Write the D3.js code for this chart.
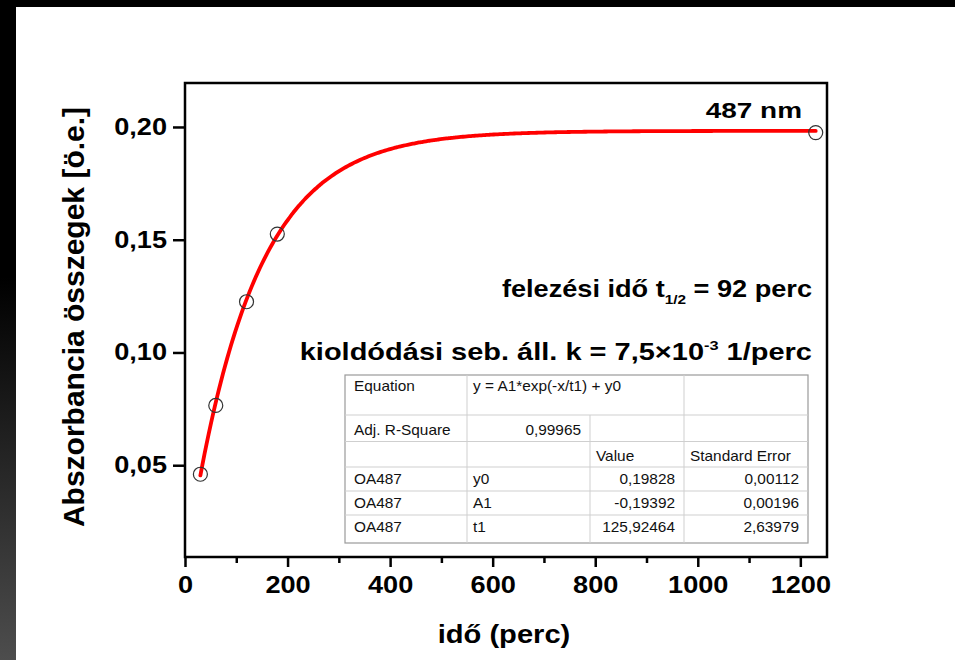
<!DOCTYPE html>
<html>
<head>
<meta charset="utf-8">
<script src="https://cdn.jsdelivr.net/npm/d3@7"></script>
<style>
  html, body { margin: 0; padding: 0; background: #000; }
  svg { display: block; }
  text { font-family: "Liberation Sans", Arial, sans-serif; }
</style>
</head>
<body>
<div id="chart"></div>
<script>
// measured points: time (perc) vs absorbance sums
var timeMin = [30, 60, 120, 180, 1230];
var absorbance = [0.046, 0.0765, 0.1225, 0.1525, 0.1975];

// fit parameters (from the result table)
var fitY0 = 0.19828;
var fitA1 = -0.19392;
var fitT1 = 125.92464;

var xTicks = [0, 200, 400, 600, 800, 1000, 1200];
var xMinorTicks = [100, 300, 500, 700, 900, 1100];
var yTicks = [0.05, 0.10, 0.15, 0.20];

// fit result table, column by column
var tableCol1 = ["Equation", "Adj. R-Square", "", "OA487", "OA487", "OA487"];
var tableCol2 = ["y = A1*exp(-x/t1) + y0", "0,99965", "", "y0", "A1", "t1"];
var tableCol3 = ["", "", "Value", "0,19828", "-0,19392", "125,92464"];
var tableCol4 = ["", "", "Standard Error", "0,00112", "0,00196", "2,63979"];

var svgWidth = 955;
var svgHeight = 660;

var plot = {left: 185, right: 827, top: 83, bottom: 557};

var svg = d3.select("#chart")
    .append("svg")
    .attr("width", svgWidth)
    .attr("height", svgHeight);

// background: black with a grey fade on the left strip
var defs = svg.append("defs");
var grad = defs.append("linearGradient")
    .attr("id", "leftFade")
    .attr("x1", 0).attr("y1", 0).attr("x2", 0).attr("y2", 1);
grad.append("stop").attr("offset", "0.42").attr("stop-color", "#000");
grad.append("stop").attr("offset", "1").attr("stop-color", "#4d4d4d");

svg.append("rect").attr("width", svgWidth).attr("height", svgHeight).attr("fill", "#000");
svg.append("rect").attr("x", 0).attr("y", 0).attr("width", 16).attr("height", svgHeight)
    .attr("fill", "url(#leftFade)");
svg.append("rect").attr("x", 16).attr("y", 7).attr("width", svgWidth - 16).attr("height", svgHeight - 7)
    .attr("fill", "#fff");

var xScale = d3.scaleLinear().domain([0, 1252]).range([plot.left, plot.right]);
var yScale = d3.scaleLinear().domain([0.0093, 0.2195]).range([plot.bottom, plot.top]);

var commaLocale = d3.formatLocale({decimal: ",", thousands: "", grouping: [3], currency: ["", ""]});
var yFormat = commaLocale.format(".2f");

var tickFont = 23;
var stretch = 1.18;

// x axis: major + minor ticks
var xAxis = svg.append("g")
    .attr("transform", `translate(0, ${plot.bottom})`)
    .call(d3.axisBottom(xScale).tickValues(xTicks).tickSize(10).tickPadding(10).tickFormat(d3.format("d")));

svg.append("g")
    .attr("transform", `translate(0, ${plot.bottom})`)
    .call(d3.axisBottom(xScale).tickValues(xMinorTicks).tickSize(6).tickFormat(""))
    .call(g => g.select(".domain").remove());

var yAxis = svg.append("g")
    .attr("transform", `translate(${plot.left}, 0)`)
    .call(d3.axisLeft(yScale).tickValues(yTicks).tickSize(12).tickPadding(6).tickFormat(yFormat));

svg.selectAll(".domain").remove();
svg.selectAll(".tick line").attr("stroke", "#000").attr("stroke-width", 2.5);

xAxis.selectAll("text")
    .attr("font-size", tickFont)
    .attr("font-weight", "bold")
    .attr("font-family", "Liberation Sans, Arial, sans-serif")
    .attr("fill", "#000")
    .attr("transform", `scale(${stretch},1)`);

yAxis.selectAll("text")
    .attr("font-size", tickFont)
    .attr("font-weight", "bold")
    .attr("font-family", "Liberation Sans, Arial, sans-serif")
    .attr("fill", "#000")
    .attr("x", -18 / stretch)
    .attr("transform", `scale(${stretch},1)`);

// plot frame
svg.append("rect")
    .attr("x", plot.left)
    .attr("y", plot.top)
    .attr("width", plot.right - plot.left)
    .attr("height", plot.bottom - plot.top)
    .attr("fill", "none")
    .attr("stroke", "#000")
    .attr("stroke-width", 2.5);

// fitted curve y = A1*exp(-x/t1) + y0 between first and last measurement
var fitX = d3.range(timeMin[0], timeMin[timeMin.length - 1] + 1, 4);
var fitLine = d3.line()
    .x(d => xScale(d))
    .y(d => yScale(fitA1 * Math.exp(-d / fitT1) + fitY0))
    .curve(d3.curveMonotoneX);

svg.append("path")
    .datum(fitX)
    .attr("d", fitLine)
    .attr("fill", "none")
    .attr("stroke", "#ff0000")
    .attr("stroke-width", 3.8)
    .attr("stroke-linecap", "round");

// measured points
svg.selectAll("circle.pt")
    .data(timeMin)
    .enter()
    .append("circle")
    .attr("class", "pt")
    .attr("cx", d => xScale(d))
    .attr("cy", (d, i) => yScale(absorbance[i]))
    .attr("r", 7)
    .attr("fill", "none")
    .attr("stroke", "#333")
    .attr("stroke-width", 1.2);

// annotations
function stretchedText(x, y, size, sx, anchor) {
    return svg.append("text")
        .attr("transform", `translate(${x}, ${y}) scale(${sx},1)`)
        .attr("text-anchor", anchor)
        .attr("font-size", size)
        .attr("font-weight", "bold")
        .attr("fill", "#000");
}

stretchedText(802, 118, 22, 1.27, "end").text("487 nm");

var half = stretchedText(812, 297, 23, 1.18, "end");
half.append("tspan").text("felezési idő t");
half.append("tspan").attr("font-size", 13).attr("dy", 7).text("1/2");
half.append("tspan").attr("dy", -7).text(" = 92 perc");

var rate = stretchedText(812, 360, 23, 1.26, "end");
rate.append("tspan").text("kioldódási seb. áll. k = 7,5×10");
rate.append("tspan").attr("font-size", 13).attr("dy", -10).text("-3");
rate.append("tspan").attr("dy", 10).text(" 1/perc");

// axis titles
stretchedText(504, 643, 26, 1.12, "middle").text("idő (perc)");

svg.append("text")
    .attr("transform", "translate(84, 317) rotate(-90)")
    .attr("text-anchor", "middle")
    .attr("font-size", 30)
    .attr("font-weight", "bold")
    .attr("fill", "#000")
    .text("Abszorbancia összegek [ö.e.]");

// result table
var colEdges = [345, 467, 590, 684, 808];
var rowEdges = [375, 415, 441.5, 467, 491, 515, 543];
var rowBase = [391, 435, 461, 484, 507.5, 532];
var tableFont = 14;
var tableStretch = 1.1;

var table = svg.append("g");
table.append("rect")
    .attr("x", colEdges[0])
    .attr("y", rowEdges[0])
    .attr("width", colEdges[4] - colEdges[0])
    .attr("height", rowEdges[6] - rowEdges[0])
    .attr("fill", "#fff")
    .attr("stroke", "#9a9a9a")
    .attr("stroke-width", 1.2);

// horizontal inner lines
rowEdges.slice(1, 6).forEach(function(y) {
    table.append("line")
        .attr("x1", colEdges[0]).attr("x2", colEdges[4])
        .attr("y1", y).attr("y2", y)
        .attr("stroke", "#cfcfcf").attr("stroke-width", 1);
});
// vertical inner lines (equation cell spans cols 2-3)
table.append("line").attr("x1", colEdges[1]).attr("x2", colEdges[1])
    .attr("y1", rowEdges[0]).attr("y2", rowEdges[6]).attr("stroke", "#cfcfcf");
table.append("line").attr("x1", colEdges[2]).attr("x2", colEdges[2])
    .attr("y1", rowEdges[1]).attr("y2", rowEdges[6]).attr("stroke", "#cfcfcf");
table.append("line").attr("x1", colEdges[3]).attr("x2", colEdges[3])
    .attr("y1", rowEdges[0]).attr("y2", rowEdges[6]).attr("stroke", "#cfcfcf");

function cellText(txt, col, row, align) {
    if (!txt) return;
    var pad = col === 0 ? 9 : 6;
    var x = align === "end" ? colEdges[col + 1] - 9 : colEdges[col] + pad;
    table.append("text")
        .attr("transform", `translate(${x}, ${rowBase[row]}) scale(${tableStretch},1)`)
        .attr("text-anchor", align)
        .attr("font-size", tableFont)
        .attr("fill", "#111")
        .text(txt);
}

var tableCols = [tableCol1, tableCol2, tableCol3, tableCol4];
tableCols.forEach(function(col, c) {
    col.forEach(function(txt, r) {
        var align = "start";
        if (c === 1 && r === 1) align = "end";
        if (c >= 2 && r >= 3) align = "end";
        cellText(txt, c, r, align);
    });
});
</script>
</body>
</html>
